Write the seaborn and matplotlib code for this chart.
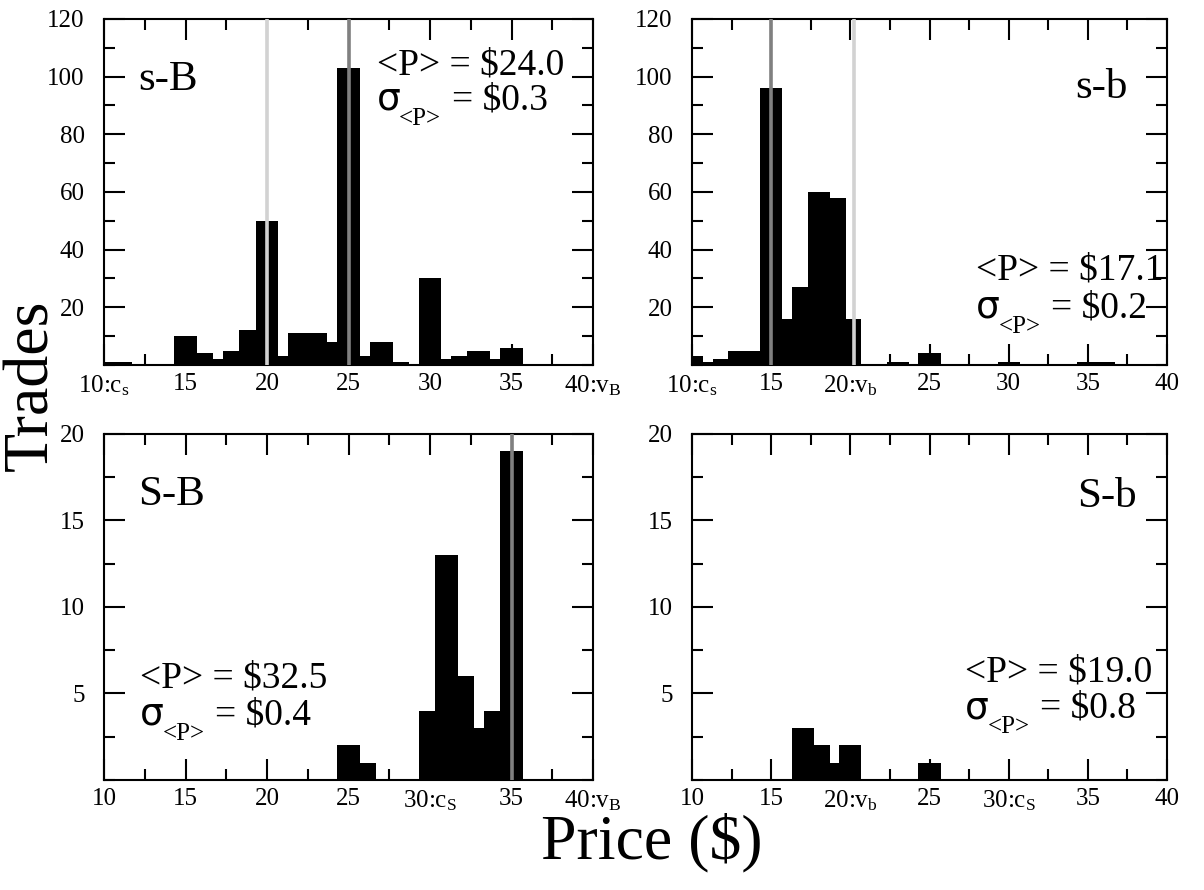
import numpy as np
import pandas as pd
import matplotlib
matplotlib.use("Agg")
import matplotlib.pyplot as plt
import seaborn as sns
from matplotlib.ticker import MultipleLocator, FixedLocator

sns.set_theme(style="ticks")
plt.rcParams['font.family'] = ['Liberation Serif', 'DejaVu Serif']
plt.rcParams['mathtext.fontset'] = 'custom'
plt.rcParams['mathtext.rm'] = 'Liberation Serif'
plt.rcParams['mathtext.it'] = 'Liberation Serif:italic'
plt.rcParams['text.color'] = 'black'

# trades per price
sB_price = [10, 11, 15, 16, 17, 18, 19, 20, 21, 22, 23, 24, 25, 26, 27, 28, 30, 31, 32, 33, 34, 35]
sB_trades = [1, 1, 10, 4, 2, 5, 12, 50, 3, 11, 11, 8, 103, 3, 8, 1, 30, 2, 3, 5, 2, 6]

sb_price = [10, 11, 12, 13, 14, 15, 16, 17, 18, 19, 20, 23, 25, 30, 35, 36]
sb_trades = [3, 1, 2, 5, 5, 96, 16, 27, 60, 58, 16, 1, 4, 1, 1, 1]

SB_price = [25, 26, 30, 31, 32, 33, 34, 35]
SB_trades = [2, 1, 4, 13, 6, 3, 4, 19]

Sb_price = [17, 18, 19, 20, 25]
Sb_trades = [3, 2, 1, 2, 1]

xticks = [10, 15, 20, 25, 30, 35, 40]
xlabels_sB = ['10:c$_\\mathrm{s}$', '15', '20', '25', '30', '35', '40:v$_\\mathrm{B}$']
xlabels_sb = ['10:c$_\\mathrm{s}$', '15', '20:v$_\\mathrm{b}$', '25', '30', '35', '40']
xlabels_SB = ['10', '15', '20', '25', '30:c$_\\mathrm{S}$', '35', '40:v$_\\mathrm{B}$']
xlabels_Sb = ['10', '15', '20:v$_\\mathrm{b}$', '25', '30:c$_\\mathrm{S}$', '35', '40']

LIGHT = '#d2d2d2'
DARK = '#808080'

panels = [
    dict(price=sB_price, trades=sB_trades, xlabels=xlabels_sB, top=True,
         lines=[(20, LIGHT), (25, DARK)], name='s-B', name_pos=(0.07, 0.824, 'left'),
         mean='<P> = $24.0', sigma='= $0.3', stat_pos=(0.558, 0.867, 0.766)),
    dict(price=sb_price, trades=sb_trades, xlabels=xlabels_sb, top=True,
         lines=[(15, DARK), (20.25, LIGHT)], name='s-b', name_pos=(0.918, 0.80, 'right'),
         mean='<P> = $17.1', sigma='= $0.2', stat_pos=(0.598, 0.275, 0.165)),
    dict(price=SB_price, trades=SB_trades, xlabels=xlabels_SB, top=False,
         lines=[(35, DARK)], name='S-B', name_pos=(0.07, 0.824, 'left'),
         mean='<P> = $32.5', sigma='= $0.4', stat_pos=(0.074, 0.295, 0.188)),
    dict(price=Sb_price, trades=Sb_trades, xlabels=xlabels_Sb, top=False,
         lines=[], name='S-b', name_pos=(0.937, 0.818, 'right'),
         mean='<P> = $19.0', sigma='= $0.8', stat_pos=(0.575, 0.312, 0.208)),
]

rects = [
    [104/1204, 0.5899, 489/1204, 0.3888],
    [692/1204, 0.5899, 475/1204, 0.3888],
    [104/1204, 0.1236, 489/1204, 0.3888],
    [692/1204, 0.1236, 475/1204, 0.3888],
]

fig = plt.figure(figsize=(12.04, 8.90), dpi=100)

for p, r in zip(panels, rects):
    ax = fig.add_axes(r)
    df = pd.DataFrame({'price': p['price'], 'trades': p['trades']})
    sns.histplot(data=df, x='price', weights='trades', discrete=True, shrink=1.4,
                 color='black', alpha=1, linewidth=0, ax=ax)
    for x, c in p['lines']:
        ax.axvline(x, color=c, lw=2.6, zorder=3)
    ax.set_xlim(10, 40)
    ax.set_xlabel('')
    ax.set_ylabel('')
    ax.xaxis.set_major_locator(FixedLocator(xticks))
    ax.set_xticklabels(p['xlabels'])
    ax.xaxis.set_minor_locator(MultipleLocator(2.5))
    if p['top']:
        ax.set_ylim(0, 120)
        ax.yaxis.set_major_locator(FixedLocator([20, 40, 60, 80, 100, 120]))
        ax.yaxis.set_minor_locator(MultipleLocator(10))
    else:
        ax.set_ylim(0, 20)
        ax.yaxis.set_major_locator(FixedLocator([5, 10, 15, 20]))
        ax.yaxis.set_minor_locator(MultipleLocator(2.5))
    ax.tick_params(which='both', direction='in', top=True, right=True, width=1.5,
                   colors='black', labelsize=18)
    ax.tick_params(which='major', length=15)
    ax.tick_params(which='minor', length=8)
    ax.tick_params(axis='x', which='major', pad=6)
    ax.tick_params(axis='y', which='major', pad=14)
    for s in ax.spines.values():
        s.set_linewidth(1.5)
        s.set_color('black')

    nx, ny, ha = p['name_pos']
    ax.text(nx, ny, p['name'], transform=ax.transAxes, ha=ha, va='center', fontsize=31)
    sx, sy1, sy2 = p['stat_pos']
    ax.text(sx, sy1, p['mean'], transform=ax.transAxes, ha='left', va='center', fontsize=27)
    # sigma line: symbol, lowered subscript, then value
    ax.annotate('σ', (sx, sy2), xycoords='axes fraction', ha='left', va='center',
                fontsize=27, family=['DejaVu Sans'])
    ax.annotate('<P>', (sx, sy2), xycoords='axes fraction', xytext=(16, -14),
                textcoords='offset points', ha='left', va='center', fontsize=18)
    ax.annotate(p['sigma'], (sx, sy2), xycoords='axes fraction', xytext=(54, 0),
                textcoords='offset points', ha='left', va='center', fontsize=27)

fig.text(0.027, 0.567, 'Trades', rotation=90, ha='center', va='center', fontsize=46)
fig.text(0.541, 0.053, 'Price ($)', ha='center', va='center', fontsize=46)

fig.savefig('out.png', dpi=100)
